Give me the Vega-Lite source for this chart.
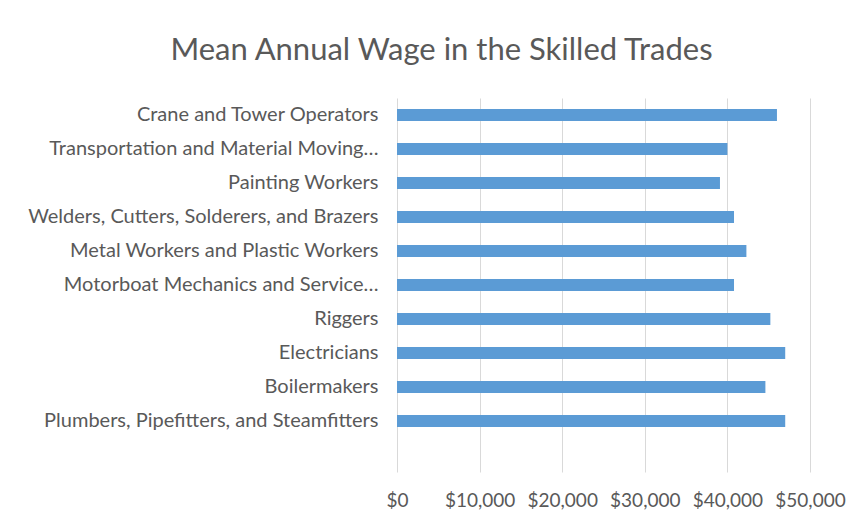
{
  "$schema": "https://vega.github.io/schema/vega-lite/v6.json",
  "autosize": {"type": "none"},
  "width": 413,
  "height": 374,
  "padding": {"left": 397, "top": 98, "right": 58, "bottom": 53},
  "background": "white",
  "title": {
    "text": "Mean Annual Wage in the Skilled Trades",
    "font": "Lato",
    "fontSize": 31,
    "fontWeight": "normal",
    "color": "#595959",
    "anchor": "middle",
    "dx": -162,
    "offset": 31
  },
  "data": {
    "values": [
      {"trade": "Crane and Tower Operators", "wage": 46000},
      {"trade": "Transportation and Material Moving…", "wage": 40000},
      {"trade": "Painting Workers", "wage": 39100},
      {"trade": "Welders, Cutters, Solderers, and Brazers", "wage": 40800},
      {"trade": "Metal Workers and Plastic Workers", "wage": 42300},
      {"trade": "Motorboat Mechanics and Service…", "wage": 40800},
      {"trade": "Riggers", "wage": 45200},
      {"trade": "Electricians", "wage": 47000},
      {"trade": "Boilermakers", "wage": 44600},
      {"trade": "Plumbers, Pipefitters, and Steamfitters", "wage": 47000}
    ]
  },
  "mark": {"type": "bar", "color": "#5b9bd5"},
  "encoding": {
    "y": {
      "field": "trade",
      "type": "nominal",
      "sort": null,
      "title": null,
      "scale": {
        "domain": [
          "Crane and Tower Operators",
          "Transportation and Material Moving…",
          "Painting Workers",
          "Welders, Cutters, Solderers, and Brazers",
          "Metal Workers and Plastic Workers",
          "Motorboat Mechanics and Service…",
          "Riggers",
          "Electricians",
          "Boilermakers",
          "Plumbers, Pipefitters, and Steamfitters",
          " "
        ],
        "paddingInner": 0.65,
        "paddingOuter": 0.325
      },
      "axis": {
        "domain": false,
        "ticks": false,
        "labelFont": "Lato",
        "labelFontSize": 20,
        "labelColor": "#595959",
        "labelPadding": 19,
        "labelLimit": 400
      }
    },
    "x": {
      "field": "wage",
      "type": "quantitative",
      "title": null,
      "scale": {"domain": [0, 50000], "nice": false},
      "axis": {
        "values": [0, 10000, 20000, 30000, 40000, 50000],
        "format": "$,.0f",
        "domain": false,
        "ticks": false,
        "grid": true,
        "gridColor": "#d9d9d9",
        "gridWidth": 1,
        "labelFont": "Lato",
        "labelFontSize": 19,
        "labelColor": "#595959",
        "labelPadding": 19,
        "labelFlush": false
      }
    }
  },
  "config": {"view": {"stroke": null}}
}
